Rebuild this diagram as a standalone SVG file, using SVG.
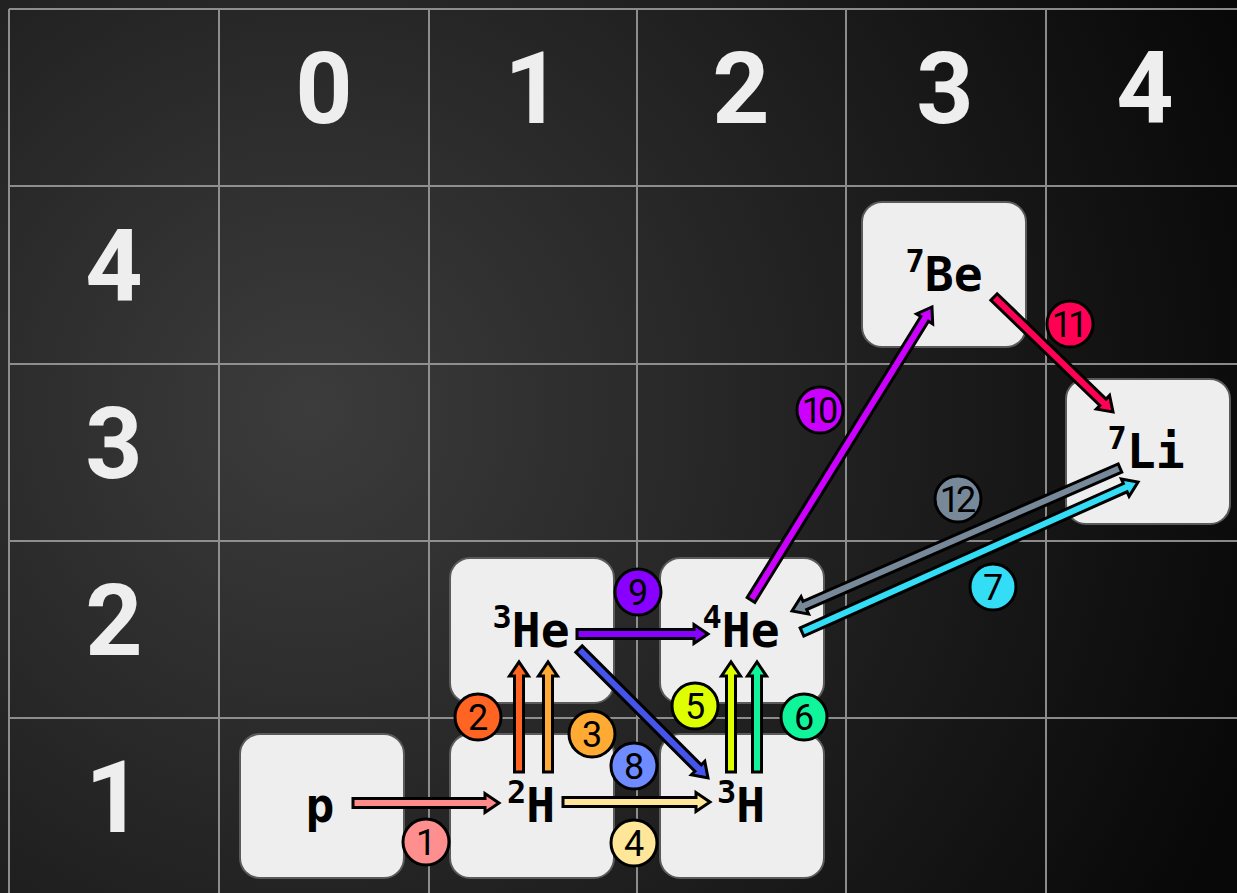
<svg xmlns="http://www.w3.org/2000/svg" width="1237" height="893" viewBox="0 0 1237 893">
<defs>
<radialGradient id="bg" gradientUnits="userSpaceOnUse" cx="310" cy="410" r="1000">
<stop offset="0" stop-color="#3c3c3c"/>
<stop offset="1" stop-color="#080808"/>
</radialGradient>
<style>
.grid{stroke:#a0a0a0;stroke-width:2;fill:none;opacity:0.85}
.hdr{font-family:Roboto,"DejaVu Sans Mono",sans-serif;font-weight:bold;font-size:100px;fill:#eeeeee;text-anchor:middle}
.node rect{fill:#eeeeee;stroke:#5a5a5a;stroke-width:2}
.lbl{font-family:"DejaVu Sans Mono","Liberation Mono",monospace;font-weight:bold;font-size:48px;fill:#000;text-anchor:middle}
.sup{font-size:32px}
.ar{stroke:#000;stroke-width:3;stroke-linejoin:miter}
.tag circle{stroke:#000;stroke-width:3}
.tag text{font-family:Roboto,"Liberation Sans",sans-serif;font-size:36px;fill:#000;text-anchor:middle}
.tag text.two{letter-spacing:-4px}
</style>
</defs>
<rect x="0" y="0" width="1237" height="893" fill="url(#bg)"/>
<g id="grid" class="grid">
<line x1="9" y1="9" x2="1237" y2="9"/>
<line x1="9" y1="186" x2="1237" y2="186"/>
<line x1="9" y1="364" x2="1237" y2="364"/>
<line x1="9" y1="541" x2="1237" y2="541"/>
<line x1="9" y1="718" x2="1237" y2="718"/>
<line x1="9" y1="9" x2="9" y2="893"/>
<line x1="219" y1="9" x2="219" y2="893"/>
<line x1="429" y1="9" x2="429" y2="893"/>
<line x1="637" y1="9" x2="637" y2="893"/>
<line x1="846" y1="9" x2="846" y2="893"/>
<line x1="1046" y1="9" x2="1046" y2="893"/>
</g>
<g id="headers">
<text class="hdr" x="324" y="123">0</text>
<text class="hdr" x="533" y="123">1</text>
<text class="hdr" x="741" y="123">2</text>
<text class="hdr" x="945" y="123">3</text>
<text class="hdr" x="1145" y="123">4</text>
<text class="hdr" x="114" y="301">4</text>
<text class="hdr" x="114" y="478">3</text>
<text class="hdr" x="114" y="655">2</text>
<text class="hdr" x="114" y="832">1</text>
</g>
<g id="node-p" class="node"><rect x="240" y="734" width="164" height="144" rx="20"/><text class="lbl" x="320" y="822">p</text></g>
<g id="node-2H" class="node"><rect x="450" y="734" width="164" height="144" rx="20"/><text class="lbl" x="531" y="822"><tspan class="sup" dy="-19">2</tspan><tspan dy="19">H</tspan></text></g>
<g id="node-3He" class="node"><rect x="450" y="558" width="164" height="145" rx="20"/><text class="lbl" x="531" y="647"><tspan class="sup" dy="-19">3</tspan><tspan dy="19">He</tspan></text></g>
<g id="node-4He" class="node"><rect x="660" y="558" width="164" height="145" rx="20"/><text class="lbl" x="741" y="647"><tspan class="sup" dy="-19">4</tspan><tspan dy="19">He</tspan></text></g>
<g id="node-3H" class="node"><rect x="660" y="734" width="164" height="144" rx="20"/><text class="lbl" x="741" y="822"><tspan class="sup" dy="-19">3</tspan><tspan dy="19">H</tspan></text></g>
<g id="node-7Be" class="node"><rect x="862" y="202" width="164" height="145" rx="20"/><text class="lbl" x="944" y="291"><tspan class="sup" dy="-19">7</tspan><tspan dy="19">Be</tspan></text></g>
<g id="node-7Li" class="node"><rect x="1066" y="379" width="164" height="145" rx="20"/><text class="lbl" x="1146" y="468"><tspan class="sup" dy="-19">7</tspan><tspan dy="19">Li</tspan></text></g>
<g id="connectors">
<path class="ar" fill="#ff8a8a" transform="translate(353 803)" d="M0,-4.5H132V-9.5L146,0L132,9.5V4.5H0Z"/>
<path class="ar" fill="#ff6422" transform="translate(519 772) rotate(-90)" d="M0,-4.5H96V-9.5L110,0L96,9.5V4.5H0Z"/>
<path class="ar" fill="#ffaa33" transform="translate(548 772) rotate(-90)" d="M0,-4.5H96V-9.5L110,0L96,9.5V4.5H0Z"/>
<path class="ar" fill="#ffe699" transform="translate(563 802)" d="M0,-4.5H133V-9.5L147,0L133,9.5V4.5H0Z"/>
<path class="ar" fill="#ddff00" transform="translate(731 772) rotate(-90)" d="M0,-4.5H96V-9.5L110,0L96,9.5V4.5H0Z"/>
<path class="ar" fill="#11f59a" transform="translate(757 772) rotate(-90)" d="M0,-4.5H96V-9.5L110,0L96,9.5V4.5H0Z"/>
<path class="ar" fill="#33ddf5" transform="translate(802 632) rotate(-24.06)" d="M0,-4.5H354V-9.5L368,0L354,9.5V4.5H0Z"/>
<path class="ar" fill="#4455ee" transform="translate(579 649) rotate(45)" d="M0,-4.5H168.4V-9.5L182.4,0L168.4,9.5V4.5H0Z"/>
<path class="ar" fill="#8800ff" transform="translate(577 634)" d="M0,-4.5H117V-9.5L131,0L117,9.5V4.5H0Z"/>
<path class="ar" fill="#cc00ff" transform="translate(751 600) rotate(-58.3)" d="M0,-4.5H330.4V-9.5L344.4,0L330.4,9.5V4.5H0Z"/>
<path class="ar" fill="#ff0055" transform="translate(994 297) rotate(44.02)" d="M0,-4.5H151.5V-9.5L165.5,0L151.5,9.5V4.5H0Z"/>
<path class="ar" fill="#778899" transform="translate(1120 468) rotate(156.44)" d="M0,-4.5H343.8V-9.5L357.8,0L343.8,9.5V4.5H0Z"/>
</g>
<g id="labels">
<g class="tag"><circle cx="426" cy="842" r="23" fill="#ff8f8f"/><text x="426" y="855">1</text></g>
<g class="tag"><circle cx="478" cy="717" r="23" fill="#ff6422"/><text x="478" y="730">2</text></g>
<g class="tag"><circle cx="592" cy="734" r="23" fill="#ffaa33"/><text x="592" y="747">3</text></g>
<g class="tag"><circle cx="634" cy="843" r="23" fill="#ffe699"/><text x="634" y="856">4</text></g>
<g class="tag"><circle cx="695" cy="706" r="23" fill="#ddff00"/><text x="695" y="719">5</text></g>
<g class="tag"><circle cx="804" cy="717" r="23" fill="#11f59a"/><text x="804" y="730">6</text></g>
<g class="tag"><circle cx="993" cy="587" r="23" fill="#33ddf5"/><text x="993" y="600">7</text></g>
<g class="tag"><circle cx="634" cy="766" r="23" fill="#6e8bff"/><text x="634" y="779">8</text></g>
<g class="tag"><circle cx="638" cy="592" r="23" fill="#8800ff"/><text x="638" y="605">9</text></g>
<g class="tag"><circle cx="820" cy="410" r="23" fill="#cc00ff"/><text class="two" x="818" y="423">10</text></g>
<g class="tag"><circle cx="1070" cy="324" r="23" fill="#ff0055"/><text class="two" x="1068" y="337">11</text></g>
<g class="tag"><circle cx="958" cy="499" r="23" fill="#778899"/><text class="two" x="956" y="512">12</text></g>
</g>
</svg>
